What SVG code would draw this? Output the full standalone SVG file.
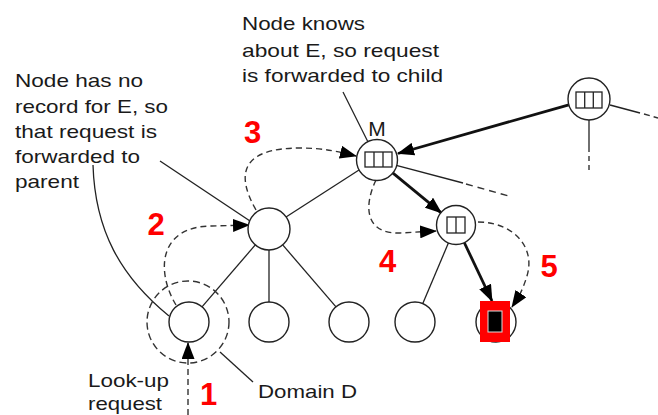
<svg xmlns="http://www.w3.org/2000/svg" width="658" height="415" viewBox="0 0 658 415">
<style>
.txt{font-family:"Liberation Sans",Arial,sans-serif;font-size:18.5px;fill:#1a1a1a}
.num{font-family:"Liberation Sans",Arial,sans-serif;font-size:31px;font-weight:bold;fill:#ff0000;text-anchor:middle}
.node{fill:#fff;stroke:#222;stroke-width:1.4}
.box{fill:none;stroke:#222;stroke-width:1.3}
.thin{fill:none;stroke:#222;stroke-width:1.3}
.thick{fill:none;stroke:#111;stroke-width:2.8}
.dash{fill:none;stroke:#333;stroke-width:1.4;stroke-dasharray:6 4}
</style>
<defs>
<marker id="ah" markerWidth="17" markerHeight="13" refX="16" refY="6.5" orient="auto" markerUnits="userSpaceOnUse">
<path d="M0,0 L17,6.5 L0,13 z" fill="#000"/>
</marker>
</defs>
<rect width="658" height="415" fill="#fff"/>

<g id="connectors">
<line class="thin" x1="255.3" y1="244.9" x2="202" y2="306.8"/>
<line class="thin" x1="269" y1="250" x2="269" y2="302"/>
<line class="thin" x1="282.7" y1="244.9" x2="336" y2="306.8"/>
<line class="thin" x1="359" y1="170" x2="286" y2="217"/>
<line class="thin" x1="448.6" y1="242.5" x2="422.8" y2="303.6"/>
<line class="thin" x1="396.3" y1="165.3" x2="463" y2="183"/>
<line class="dash" x1="466" y1="184" x2="512" y2="197" style="stroke-dasharray:7 5"/>
<line class="thin" x1="610" y1="105" x2="640" y2="113"/>
<line class="dash" x1="644" y1="114" x2="658" y2="118"/>
<line class="thin" x1="589" y1="120" x2="589" y2="152"/>
<line class="dash" x1="589" y1="156" x2="589" y2="172" style="stroke-dasharray:5 4"/>
<line class="thick" x1="568.8" y1="104.8" x2="398" y2="153.5" marker-end="url(#ah)"/>
<line class="thick" x1="392.4" y1="172.7" x2="441.3" y2="212.9" marker-end="url(#ah)"/>
<line class="thick" x1="464" y1="242" x2="492" y2="301" marker-end="url(#ah)"/>
<line class="dash" x1="188" y1="415" x2="188" y2="343" marker-end="url(#ah)"/>
<path class="dash" d="M176,305 C156,272 158,226 212,226 L249,225" marker-end="url(#ah)"/>
<path class="dash" d="M256,210 C236,175 240,148 300,148 C325,148 340,152 356,156" marker-end="url(#ah)"/>
<path class="dash" d="M376,180 C364,205 364,234 400,233 L436,231" marker-end="url(#ah)"/>
<path class="dash" d="M478,222 C512,222 536,246 527,276 C522,292 518,298 512,307" marker-end="url(#ah)"/>
<line class="thin" x1="343" y1="92" x2="368" y2="142"/>
<line class="thin" x1="160" y1="161" x2="250" y2="221"/>
<path class="thin" d="M93,165 C95,230 120,276 169,316"/>
<line class="thin" x1="220" y1="352" x2="253" y2="382"/>
</g>

<g id="domainD">
<circle cx="188" cy="322" r="41" fill="none" stroke="#333" stroke-width="1.4" stroke-dasharray="7 4"/>
</g>

<g id="nodeA"><circle class="node" cx="189" cy="322" r="20"/></g>
<g id="nodeB"><circle class="node" cx="269" cy="229" r="21"/></g>
<g id="nodeM">
<circle class="node" cx="377" cy="160" r="20.5"/>
<rect class="box" x="365" y="152" width="27" height="15"/>
<line class="box" x1="374" y1="152" x2="374" y2="167"/>
<line class="box" x1="383" y1="152" x2="383" y2="167"/>
<text class="txt" x="377" y="136" text-anchor="middle" style="font-size:21px">M</text>
</g>
<g id="nodeTR">
<circle class="node" cx="589" cy="99" r="21"/>
<rect class="box" x="576" y="92" width="26" height="16"/>
<line class="box" x1="584.7" y1="92" x2="584.7" y2="108"/>
<line class="box" x1="593.3" y1="92" x2="593.3" y2="108"/>
</g>
<g id="nodeC">
<circle class="node" cx="456" cy="225" r="19.5"/>
<rect class="box" x="447" y="217" width="18" height="16"/>
<line class="box" x1="456" y1="217" x2="456" y2="233"/>
</g>
<g id="leaf2"><circle class="node" cx="269" cy="322" r="20"/></g>
<g id="leaf3"><circle class="node" cx="349" cy="322" r="20"/></g>
<g id="leaf4"><circle class="node" cx="415" cy="322" r="20"/></g>
<g id="target">
<circle class="node" cx="496" cy="322" r="20"/>
<rect x="480" y="301" width="30" height="41" fill="#ff0000"/>
<rect x="488" y="311" width="14" height="21" fill="#000" stroke="#ddd" stroke-width="1"/>
</g>

<g id="labels">
<text class="txt" x="242" y="30" textLength="123" lengthAdjust="spacingAndGlyphs">Node knows</text>
<text class="txt" x="242" y="56.5" textLength="197" lengthAdjust="spacingAndGlyphs">about E, so request</text>
<text class="txt" x="242" y="82" textLength="201" lengthAdjust="spacingAndGlyphs">is forwarded to child</text>
<text class="txt" x="15" y="87" textLength="128" lengthAdjust="spacingAndGlyphs">Node has no</text>
<text class="txt" x="15" y="112.5" textLength="153" lengthAdjust="spacingAndGlyphs">record for E, so</text>
<text class="txt" x="15" y="138" textLength="142" lengthAdjust="spacingAndGlyphs">that request is</text>
<text class="txt" x="15" y="163" textLength="125" lengthAdjust="spacingAndGlyphs">forwarded to</text>
<text class="txt" x="15" y="188" textLength="64" lengthAdjust="spacingAndGlyphs">parent</text>
<text class="txt" x="88" y="387" textLength="81" lengthAdjust="spacingAndGlyphs">Look-up</text>
<text class="txt" x="88" y="410" textLength="74" lengthAdjust="spacingAndGlyphs">request</text>
<text class="txt" x="258" y="398" textLength="99" lengthAdjust="spacingAndGlyphs">Domain D</text>
<text class="num" x="208.5" y="405">1</text>
<text class="num" x="156" y="235">2</text>
<text class="num" x="252.5" y="143">3</text>
<text class="num" x="387.5" y="272">4</text>
<text class="num" x="549" y="277">5</text>
</g>
</svg>
